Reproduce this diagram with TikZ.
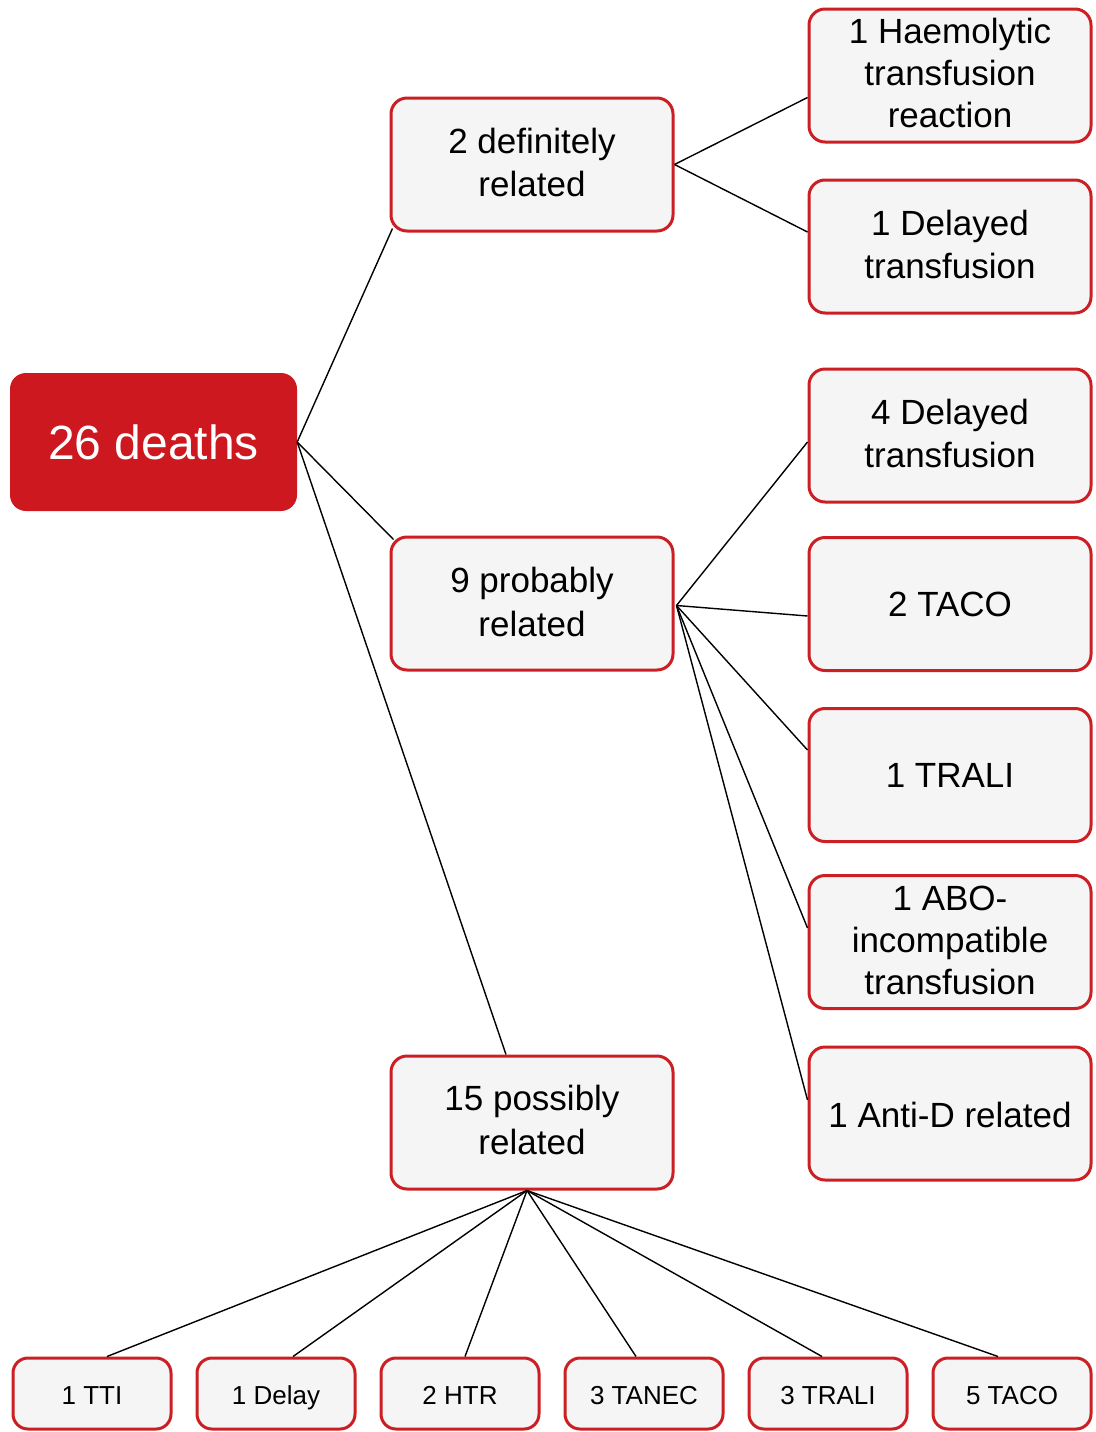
\documentclass[tikz,border=0pt]{standalone}
\usepackage{fontspec}
\setmainfont{Liberation Sans}
\usetikzlibrary{calc}
\definecolor{boxred}{HTML}{CC1F24}
\definecolor{rootred}{HTML}{CC181E}
\definecolor{boxfill}{HTML}{F5F5F5}
\newcommand\mystrut{\vrule width 0pt height 0.97em depth 0.25em\relax}
\newcommand\mytopstrut[1]{\vrule width 0pt height \dimexpr0.97em+#1\relax depth 0.25em\relax}
\newcommand\bt[2][0pt]{\mystrut#2\vrule width 0pt height 0.97em depth \dimexpr0.25em+#1\relax}
\newcommand\st[2][0pt]{\mytopstrut{#1}#2\mystrut}
\tikzset{
  rootbox/.style={rectangle, rounded corners=16pt, fill=rootred, text=white,
    minimum width=287pt, minimum height=138pt, inner sep=0pt, align=center,
    font=\fontsize{48pt}{58pt}\selectfont},
  bigbox/.style={rectangle, rounded corners=16pt, draw=boxred, line width=3pt, fill=boxfill,
    minimum width=282pt, minimum height=133pt, inner sep=0pt, align=center,
    font=\fontsize{35pt}{42pt}\selectfont},
  smallbox/.style={rectangle, rounded corners=15pt, draw=boxred, line width=3pt, fill=boxfill,
    minimum width=158pt, minimum height=71pt, inner sep=0pt, align=center,
    font=\fontsize{26pt}{31pt}\selectfont},
  link/.style={draw=black, line width=1.4pt}
}
\begin{document}
\begin{tikzpicture}[x=1pt,y=-1pt]
\useasboundingbox (0,0) rectangle (1095,1432);
\node[rootbox] (root) at (153.5,442) {\st{26 deaths}};
\node[bigbox] (def) at (532,164.5) {\bt[4pt]{2 definitely\\related}};
\node[bigbox] (prob) at (532,603.5) {\bt[3pt]{9 probably\\related}};
\node[bigbox] (poss) at (532,1122.5) {\bt[5pt]{15 possibly\\related}};
\node[bigbox] (haem) at (950,75.5) {\bt[5pt]{1 Haemolytic\\transfusion\\reaction}};
\node[bigbox] (delA) at (950,246.5) {\bt[4pt]{1 Delayed\\transfusion}};
\node[bigbox] (delB) at (950,435.5) {\bt[4.5pt]{4 Delayed\\transfusion}};
\node[bigbox] (tacoA) at (950,604) {\st{2 TACO}};
\node[bigbox] (traliA) at (950,775) {\st{1 TRALI}};
\node[bigbox] (abo) at (950,942) {\bt[5pt]{1 ABO-\\incompatible\\transfusion}};
\node[bigbox] (antid) at (950,1113.5) {\st[3pt]{1 Anti-D related}};
\node[smallbox] (tti) at (92,1393.5) {\st[4pt]{1 TTI}};
\node[smallbox] (delay) at (276,1393.5) {\st[4pt]{1 Delay}};
\node[smallbox] (htr) at (460,1393.5) {\st[4pt]{2 HTR}};
\node[smallbox] (tanec) at (644,1393.5) {\st[4pt]{3 TANEC}};
\node[smallbox] (traliB) at (828,1393.5) {\st[4pt]{3 TRALI}};
\node[smallbox] (tacoB) at (1012,1393.5) {\st[4pt]{5 TACO}};
\draw[link] (root.east) -- ($(def.south west)+(3,-4)$);
\draw[link] (root.east) -- ($(prob.north west)+(4,4)$);
\draw[link] (root.east) -- ($(poss.north)+(-26,0)$);
\draw[link] (def.east) -- ($(haem.west)+(0,22)$);
\draw[link] (def.east) -- ($(delA.west)+(0,-14.5)$);
\coordinate (pe) at ($(prob.east)+(2,2)$);
\draw[link] (pe) -- ($(delB.west)+(0,6.5)$);
\draw[link] (pe) -- ($(tacoA.west)+(0,12)$);
\draw[link] (pe) -- ($(traliA.west)+(0,-25)$);
\draw[link] (pe) -- ($(abo.west)+(0,-14)$);
\draw[link] (pe) -- ($(antid.west)+(0,-13.5)$);
\coordinate (ps) at ($(poss.south)+(-5,0)$);
\draw[link] (ps) -- ($(tti.north)+(15,0)$);
\draw[link] (ps) -- ($(delay.north)+(17,0)$);
\draw[link] (ps) -- ($(htr.north)+(5,0)$);
\draw[link] (ps) -- ($(tanec.north)+(-8,0)$);
\draw[link] (ps) -- ($(traliB.north)+(-6,0)$);
\draw[link] (ps) -- ($(tacoB.north)+(-14,0)$);
\end{tikzpicture}
\end{document}
